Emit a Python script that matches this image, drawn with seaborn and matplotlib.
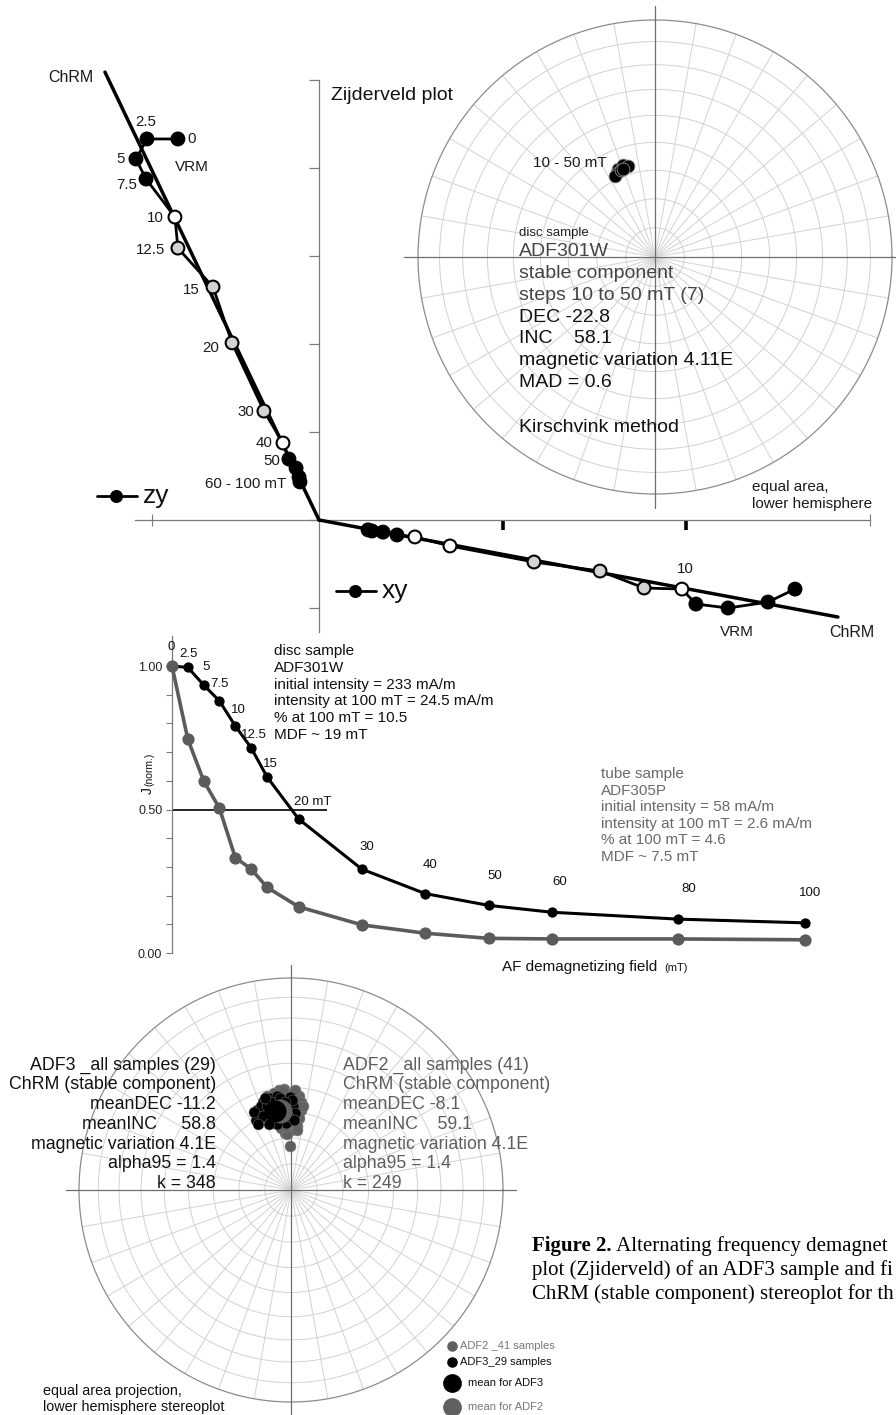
import numpy as np
import pandas as pd
import matplotlib
matplotlib.use("Agg")
import matplotlib.pyplot as plt
from matplotlib.lines import Line2D
import seaborn as sns

sns.set_theme(style="white")
plt.rcParams["font.family"] = ["Liberation Sans", "DejaVu Sans"]

W, H = 896, 1415

# ---------------------------------------------------------------- data
af_steps = [0, 2.5, 5, 7.5, 10, 12.5, 15, 20, 30, 40, 50, 60, 80, 100]
step_labels = ["0", "2.5", "5", "7.5", "10", "12.5", "15", "20", "30", "40", "50"]

# orthogonal projections of the disc sample ADF301W (intensity units)
zy_h = [-61.5, -75.0, -79.8, -75.4, -62.8, -61.5, -46.2, -37.9, -24.0, -15.7, -13.1, -10.0, -8.7, -8.3]
zy_v = [173.2, 173.2, 164.1, 155.0, 137.7, 123.6, 105.9, 80.5, 49.5, 35.0, 27.7, 23.6, 19.5, 17.3]
zy_fill = ["solid"] * 4 + ["open", "shaded", "shaded", "shaded", "shaded", "open"] + ["solid"] * 4

xy_h = [207.5, 195.7, 178.3, 164.3, 158.2, 141.7, 122.5, 93.7, 57.1, 41.8, 34.0, 27.9, 23.1, 21.4]
xy_v = [-31.4, -37.3, -40.0, -38.2, -31.4, -30.9, -23.2, -19.1, -11.8, -7.7, -6.8, -5.5, -5.0, -4.5]
xy_fill = ["solid"] * 4 + ["open", "shaded", "shaded", "shaded", "open", "open"] + ["solid"] * 4

# ChRM (Kirschvink fit) through the origin
chrm_zy_h = [0.0, -93.3]
chrm_zy_v = [0.0, 203.6]
chrm_xy_h = [0.0, 226.2]
chrm_xy_v = [0.0, -44.1]

# normalised intensity during AF demagnetisation
disc_J = [1.00, 0.995, 0.934, 0.878, 0.791, 0.715, 0.614, 0.467, 0.292, 0.207, 0.166, 0.142, 0.118, 0.105]
tube_J = [1.00, 0.745, 0.600, 0.504, 0.332, 0.293, 0.229, 0.161, 0.098, 0.069, 0.051, 0.049, 0.049, 0.046]

# stable component steps 10-50 mT, ADF301W
site_dec = [-22.5, -19.0, -16.5, -24.5, -26.5, -21.5, -20.0]
site_inc = [56.8, 56.4, 57.0, 58.2, 58.8, 57.6, 57.4]

# ChRM directions of all samples
adf3_dec = [-26.6, -23.0, -17.6, -12.9, -8.5, -0.6, 1.4, 3.0, -7.3, -14.0, -18.0, -19.7, -4.3, -25.4, -15.9,
            -7.9, -11.6, -5.7, -2.3, -12.8, -20.7, -6.8, 0.6, -3.9, -26.6, -12.0, -18.4, 2.5, -15.8]
adf3_inc = [59.7, 56.3, 54.2, 53.3, 53.1, 53.9, 57.5, 60.2, 62.8, 61.4, 58.7, 55.4, 64.1, 56.6, 56.1,
            56.4, 59.2, 58.9, 61.4, 55.0, 59.4, 54.0, 55.1, 55.8, 61.5, 64.0, 63.2, 63.0, 52.8]
adf2_dec = [-6.8, -4.0, -9.9, -1.2, 3.9, 7.1, 6.3, 5.4, 0.0, -6.0, -9.2, -3.5, 1.7, -11.3, -1.6, 3.0, -6.0,
            -11.3, -4.2, 1.4, -7.9, -1.3, -12.5, -6.1, 4.9, 6.5, -1.3, -7.9, -2.5, -13.3, -14.7, -4.6, 2.3,
            -8.7, 5.7, -4.1, -8.7, 0.0, -14.3, -5.4, 8.1]
adf2_inc = [50.8, 50.6, 51.7, 52.7, 55.8, 58.8, 62.1, 65.3, 66.9, 68.0, 65.8, 64.5, 63.8, 62.5, 62.2, 60.6, 60.5,
            58.4, 58.2, 58.3, 56.4, 56.7, 54.2, 53.3, 53.4, 55.6, 73.1, 62.0, 54.2, 59.8, 56.4, 50.9, 50.9,
            53.8, 66.8, 68.4, 59.5, 59.9, 52.3, 65.3, 57.1]
adf3_mean = (-11.2, 58.8)
adf2_mean = (-8.1, 59.1)

GREY_TXT = "#5e5e5e"
GRID = "#d2d2d2"
AXIS = "#7a7a7a"

fig = plt.figure(figsize=(W / 100, H / 100), dpi=100)


def rect_px(left, top, right, bottom):
    return [left / W, 1 - bottom / H, (right - left) / W, (bottom - top) / H]


def ftext(px, py, s, **kw):
    kw.setdefault("va", "center")
    return fig.text(px / W, 1 - py / H, s, **kw)


def ann(ax, x, y, s, dx, dy, **kw):
    kw.setdefault("ha", "center")
    kw.setdefault("va", "center")
    ax.annotate(s, xy=(x, y), xytext=(dx, dy), textcoords="offset pixels", **kw)


def eqarea(dec, inc):
    d = np.radians(np.asarray(dec, float))
    i = np.radians(np.asarray(inc, float))
    r = np.sqrt(2) * np.sin((np.pi / 2 - i) / 2)
    return r * np.sin(d), r * np.cos(d)


def draw_net(ax, cross=1.06):
    t = np.linspace(0, 2 * np.pi, 400)
    for inc in range(10, 90, 10):
        r = np.sqrt(2) * np.sin(np.radians(90 - inc) / 2)
        ax.plot(r * np.cos(t), r * np.sin(t), color=GRID, lw=0.7, zorder=1)
    for d in range(0, 360, 10):
        a = np.radians(d)
        ax.plot([0, np.sin(a)], [0, np.cos(a)], color=GRID, lw=0.7, zorder=1)
    ax.plot(np.cos(t), np.sin(t), color="#8c8c8c", lw=0.9, zorder=2)
    ax.plot([-cross, cross], [0, 0], color="#6e6e6e", lw=0.9, zorder=2)
    ax.plot([0, 0], [-cross, cross], color="#6e6e6e", lw=0.9, zorder=2)
    ax.set_xlim(-1.12, 1.12)
    ax.set_ylim(-1.12, 1.12)
    ax.axis("off")


# ---------------------------------------------------------------- Zijderveld plot
X0, Y0, SX, SY = 319, 520, 2.294, 2.2
axz = fig.add_axes(rect_px(30, 40, 896, 660))
axz.set_facecolor("none")
axz.set_xlim((30 - X0) / SX, (896 - X0) / SX)
axz.set_ylim((Y0 - 660) / SY, (Y0 - 40) / SY)
for s in ("top", "right"):
    axz.spines[s].set_visible(False)
axz.spines["left"].set_position(("data", 0))
axz.spines["bottom"].set_position(("data", 0))
axz.spines["left"].set_bounds(-51, 200)
axz.spines["bottom"].set_bounds(-80, 240)
for s in ("left", "bottom"):
    axz.spines[s].set_color(AXIS)
    axz.spines[s].set_linewidth(0.9)
axz.set_yticks(np.arange(-40, 201, 40))
axz.tick_params(axis="y", direction="out", length=7, width=0.9, color=AXIS, left=True, labelleft=False)
axz.set_xticks([80, 160])
axz.tick_params(axis="x", which="major", direction="out", length=7, width=2.6, color="black",
                bottom=True, labelbottom=False)
axz.set_xticks([-73, 240], minor=True)
axz.tick_params(axis="x", which="minor", direction="inout", length=8, width=0.8, color=AXIS, bottom=True)

fill_pal = {"solid": "black", "open": "white", "shaded": "#d3d3d3"}
for h, v in ((chrm_zy_h, chrm_zy_v), (chrm_xy_h, chrm_xy_v)):
    sns.lineplot(x=h, y=v, sort=False, estimator=None, color="black", linewidth=2.5, ax=axz, zorder=3)
for h, v, f in ((zy_h, zy_v, zy_fill), (xy_h, xy_v, xy_fill)):
    sns.lineplot(x=h, y=v, sort=False, estimator=None, color="black", linewidth=2.0, ax=axz, zorder=3)
    sns.scatterplot(x=h, y=v, hue=f, palette=fill_pal, s=85, edgecolor="black", linewidth=1.5,
                    legend=False, ax=axz, zorder=4)

zy_offsets = [(14, 0), (-1, 17), (-15, 0), (-19, -6), (-20, -1), (-27, -2), (-22, -3), (-21, -5),
              (-18, -1), (-19, 0), (-17, -2)]
for lab, (dx, dy), h, v in zip(step_labels, zy_offsets, zy_h, zy_v):
    ann(axz, h, v, lab, dx, dy, fontsize=10.8, color="#1a1a1a")
ann(axz, zy_h[11], zy_v[11], "60 - 100 mT", -10, -16, ha="right", fontsize=10.8, color="#1a1a1a")
ann(axz, zy_h[0], zy_v[0], "VRM", 14, -28, fontsize=11, color="#1a1a1a")
ann(axz, chrm_zy_h[1], chrm_zy_v[1], "ChRM", -34, -5, fontsize=11.5, color="#1a1a1a")
ann(axz, xy_h[4], xy_v[4], "10", 3, 20, fontsize=10.8, color="#1a1a1a")
ann(axz, xy_h[2], xy_v[2], "VRM", 9, -24, fontsize=11, color="#1a1a1a")
ann(axz, chrm_xy_h[1], chrm_xy_v[1], "ChRM", 14, -15, fontsize=11.5, color="#1a1a1a")

ftext(331, 96, "Zijderveld plot", fontsize=14, color="#111111")

# projection keys
for (xs, py, lab, tx) in (([97, 116, 137], 496, "zy", 143), ([336, 355, 376], 591, "xy", 382)):
    fig.add_artist(Line2D([x / W for x in xs], [1 - py / H] * 3, color="black", lw=2.0,
                          marker="o", markevery=[1], ms=9.4, mew=0))
    ftext(tx, py, lab, fontsize=19, color="#111111")

# ---------------------------------------------------------------- specimen stereonet
CX, CY, R = 655, 257, 237
half = 1.12 * R
axs = fig.add_axes(rect_px(CX - half, CY - half, CX + half, CY + half))
axs.set_facecolor("none")
draw_net(axs, cross=1.06)
sx, sy = eqarea(site_dec, site_inc)
sns.scatterplot(x=sx, y=sy, s=85, color="black", edgecolor="#8a8a8a", linewidth=0.6, ax=axs, zorder=5)

ftext(607, 163, "10 - 50 mT", fontsize=11, ha="right", color="#1a1a1a")
ftext(519, 233, "disc sample", fontsize=9.5, color="#222222")
spec_lines = [("ADF301W", "#454545"), ("stable component", "#454545"), ("steps 10 to 50 mT (7)", "#454545"),
              ("DEC -22.8", "#111111"), ("INC    58.1", "#111111"),
              ("magnetic variation 4.11E", "#111111"), ("MAD = 0.6", "#111111")]
for k, (s, c) in enumerate(spec_lines):
    ftext(519, 252 + 21.7 * k, s, fontsize=14, color=c)
ftext(519, 427, "Kirschvink method", fontsize=14, color="#111111")
ftext(752, 487, "equal area,", fontsize=11, color="#1a1a1a")
ftext(752, 504, "lower hemisphere", fontsize=11, color="#1a1a1a")

# ---------------------------------------------------------------- AF demagnetisation curves
PX0, PX100, PY0, PY1 = 172, 805, 953, 666
axd = fig.add_axes(rect_px(PX0, 636, PX100, PY0))
axd.set_facecolor("none")
axd.set_xlim(0, 100)
axd.set_ylim(0, (PY0 - 636) / (PY0 - PY1))
for s in ("top", "right", "bottom"):
    axd.spines[s].set_visible(False)
axd.spines["left"].set_color(AXIS)
axd.spines["left"].set_linewidth(0.9)
axd.set_xticks([])
axd.set_yticks([0, 0.5, 1.0])
axd.set_yticklabels(["0.00", "0.50", "1.00"])
axd.set_yticks(np.arange(0, 1.01, 0.1), minor=True)
axd.tick_params(axis="y", which="both", direction="out", length=4, width=0.8, color=AXIS,
                left=True, labelsize=9, pad=3, labelcolor="#222222")

axd.hlines(0.5, 0, 24.5, color="black", lw=1.2, zorder=2)
sns.lineplot(x=af_steps, y=disc_J, color="black", linewidth=2.2, marker="o", markersize=7.4,
             markeredgewidth=0, ax=axd, clip_on=False, zorder=3)
sns.lineplot(x=af_steps, y=tube_J, color="#5b5b5b", linewidth=2.6, marker="o", markersize=8.8,
             markeredgewidth=0, ax=axd, clip_on=False, zorder=3)

demag_offsets = [(-1, 19), (1, 13), (2, 18), (0, 17), (3, 16), (3, 13), (3, 13), (14, 17), (5, 22),
                 (5, 29), (6, 29), (8, 30), (10, 30), (5, 30)]
demag_labels = step_labels[:7] + ["20 mT"] + step_labels[8:] + ["60", "80", "100"]
for lab, (dx, dy), f, j in zip(demag_labels, demag_offsets, af_steps, disc_J):
    ann(axd, f, j, lab, dx, dy, fontsize=9.5, color="#111111")

disc_txt = ["disc sample", "ADF301W", "initial intensity = 233 mA/m", "intensity at 100 mT = 24.5 mA/m",
            "% at 100 mT = 10.5", "MDF ~ 19 mT"]
for k, s in enumerate(disc_txt):
    ftext(274, 651 + 16.8 * k, s, fontsize=11, color="#111111")
tube_txt = ["tube sample", "ADF305P", "initial intensity = 58 mA/m", "intensity at 100 mT = 2.6 mA/m",
            "% at 100 mT = 4.6", "MDF ~ 7.5 mT"]
for k, s in enumerate(tube_txt):
    ftext(601, 774 + 16.6 * k, s, fontsize=11, color="#6a6a6a")

ftext(148, 791, "J", fontsize=10, rotation=90, ha="center", color="#111111")
ftext(149, 769, "(norm.)", fontsize=7.5, rotation=90, ha="center", color="#111111")
ftext(502, 967, "AF demagnetizing field", fontsize=11, color="#111111")
ftext(664, 968, "(mT)", fontsize=8, color="#111111")

# ---------------------------------------------------------------- collection stereonet
BX, BY, BR = 291, 1190, 212
half = 1.12 * BR
axb = fig.add_axes(rect_px(BX - half, BY - half, BX + half, BY + half))
axb.set_facecolor("none")
draw_net(axb, cross=1.06)
gx, gy = eqarea(adf2_dec, adf2_inc)
bx, by = eqarea(adf3_dec, adf3_inc)
sns.scatterplot(x=gx, y=gy, s=62, color="#606060", edgecolor="#808080", linewidth=0.4, ax=axb, zorder=5)
sns.scatterplot(x=bx, y=by, s=62, color="black", edgecolor="#6a6a6a", linewidth=0.4, ax=axb, zorder=6)
mx2, my2 = eqarea([adf2_mean[0]], [adf2_mean[1]])
mx3, my3 = eqarea([adf3_mean[0]], [adf3_mean[1]])
sns.scatterplot(x=mx2, y=my2, s=300, color="#606060", linewidth=0, ax=axb, zorder=7)
sns.scatterplot(x=mx3, y=my3, s=250, color="black", linewidth=0, ax=axb, zorder=8)

adf3_txt = ["ADF3 _all samples (29)", "ChRM (stable component)", "meanDEC -11.2", "meanINC     58.8",
            "magnetic variation 4.1E", "alpha95 = 1.4", "k = 348"]
adf2_txt = ["ADF2 _all samples (41)", "ChRM (stable component)", "meanDEC -8.1", "meanINC    59.1",
            "magnetic variation 4.1E", "alpha95 = 1.4", "k = 249"]
for k, (a, b) in enumerate(zip(adf3_txt, adf2_txt)):
    ftext(216, 1065 + 19.8 * k, a, fontsize=12.8, ha="right", color="#111111")
    ftext(343, 1065 + 19.8 * k, b, fontsize=12.8, ha="left", color=GREY_TXT)

ftext(43, 1391, "equal area projection,", fontsize=10.4, color="#111111")
ftext(43, 1407, "lower hemisphere stereoplot", fontsize=10.4, color="#111111")

# key
key = [(1346, "#606060", 7.6, "ADF2 _41 samples", "#777777", 460),
       (1362, "black", 7.6, "ADF3_29 samples", "#111111", 460),
       (1383, "black", 13.5, "mean for ADF3", "#111111", 468),
       (1407, "#606060", 13.5, "mean for ADF2", "#777777", 468)]
for py, c, ms, lab, tc, tx in key:
    fig.add_artist(Line2D([452 / W], [1 - py / H], marker="o", ms=ms, color=c, lw=0, mew=0))
    ftext(tx, py, lab, fontsize=8, color=tc)

# ---------------------------------------------------------------- caption
serif = ["Liberation Serif", "DejaVu Serif"]
renderer = fig.canvas.get_renderer()
cap_lines = [("Figure 2.", " Alternating frequency demagnet"),
             ("", "plot (Zjiderveld) of an ADF3 sample and fi"),
             ("", "ChRM (stable component) stereoplot for th")]
for k, (bold, rest) in enumerate(cap_lines):
    py = 1246 + 24 * k
    x = 532
    if bold:
        tb = ftext(x, py, bold, fontsize=15, family=serif, fontweight="bold", color="black")
        x = tb.get_window_extent(renderer=renderer).x1
    ftext(x, py, rest, fontsize=15, family=serif, color="black")

fig.savefig("out.png", dpi=100)
